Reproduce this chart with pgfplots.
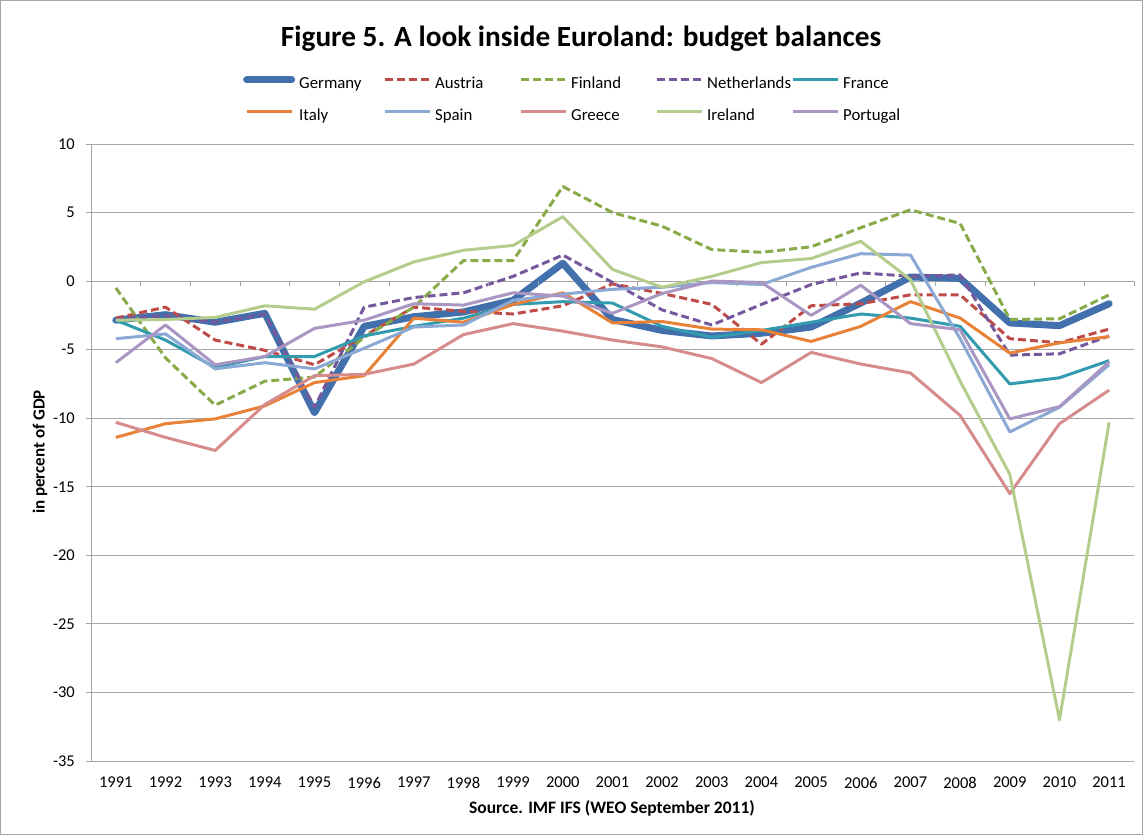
\documentclass[border=0pt]{standalone}
\usepackage{fontspec}
\setmainfont{Carlito}
\usepackage{pgfplots}
\usepackage{pgfplotstable}
\pgfplotsset{compat=1.18}

\definecolor{cGer}{RGB}{66,112,172}
\definecolor{cAut}{RGB}{190,75,72}
\definecolor{cFin}{RGB}{137,170,72}
\definecolor{cNed}{RGB}{117,88,155}
\definecolor{cFra}{RGB}{50,155,176}
\definecolor{cIta}{RGB}{232,130,56}
\definecolor{cSpa}{RGB}{140,168,212}
\definecolor{cGre}{RGB}{214,140,140}
\definecolor{cIre}{RGB}{180,205,140}
\definecolor{cPor}{RGB}{170,150,195}
\definecolor{cGrid}{RGB}{165,165,165}

% budget balances, in percent of GDP
\pgfplotstableread{
year Germany Austria Finland Netherlands France Italy Spain Greece Ireland Portugal
1991 -2.85 -2.7  -0.5  -2.8  -2.85 -11.4  -4.2  -10.3  -2.85 -5.95
1992 -2.45 -1.9  -5.6  -2.5  -4.3  -10.4  -3.85 -11.4  -2.8  -3.2
1993 -3.0  -4.3  -9.05 -3.0  -6.3  -10.05 -6.4  -12.35 -2.65 -6.1
1994 -2.35 -5.05 -7.3  -2.4  -5.5  -9.1   -5.95 -9.0   -1.8  -5.5
1995 -9.6  -6.1  -7.0  -9.2  -5.5  -7.4   -6.4  -6.9   -2.05 -3.45
1996 -3.3  -4.0  -4.1  -1.9  -4.0  -6.9   -4.9  -6.8   -0.05 -2.85
1997 -2.6  -1.9  -1.9  -1.2  -3.3  -2.7   -3.35 -6.05  1.4   -1.65
1998 -2.25 -2.2  1.5   -0.85 -2.7  -3.0   -3.2  -3.9   2.25  -1.75
1999 -1.4  -2.4  1.5   0.35  -1.7  -1.7   -1.4  -3.1   2.6   -0.85
2000 1.3   -1.8  6.9   1.9   -1.5  -0.85  -0.95 -3.65  4.7   -1.1
2001 -2.8  -0.2  5.0   -0.1  -1.6  -3.05  -0.6  -4.3   0.85  -2.35
2002 -3.6  -0.9  4.0   -2.1  -3.3  -2.95  -0.45 -4.8   -0.45 -0.9
2003 -4.0  -1.7  2.3   -3.2  -4.1  -3.5   -0.1  -5.65  0.35  0.0
2004 -3.8  -4.6  2.1   -1.7  -3.6  -3.55  -0.25 -7.4   1.35  -0.1
2005 -3.35 -1.8  2.5   -0.25 -3.0  -4.4   1.0   -5.2   1.65  -2.5
2006 -1.6  -1.65 3.9   0.6   -2.4  -3.3   2.0   -6.05  2.9   -0.3
2007 0.3   -1.0  5.2   0.35  -2.7  -1.5   1.9   -6.7   0.1   -3.1
2008 0.2   -1.0  4.2   0.45  -3.3  -2.7   -4.2  -9.8   -7.3  -3.55
2009 -3.05 -4.2  -2.8  -5.4  -7.5  -5.25  -11.0 -15.5  -14.1 -10.05
2010 -3.25 -4.5  -2.75 -5.3  -7.05 -4.5   -9.2  -10.4  -32.0 -9.15
2011 -1.65 -3.5  -1.0  -4.0  -5.8  -4.05  -6.1  -7.95  -10.3 -5.9
}\budget

\newcommand{\legbox}[1]{\makebox[84bp][l]{#1}}

\begin{document}
\begin{tikzpicture}
\useasboundingbox (0bp,0bp) rectangle (1143bp,835bp);
\draw[cGrid,line width=0.8bp] (0.5bp,0.5bp) rectangle (1142.5bp,834.5bp);
\begin{axis}[
  at={(91bp,74bp)}, anchor=south west,
  width=1043bp, height=617bp, scale only axis,
  xmin=1990.5, xmax=2011.5, ymin=-35, ymax=10,
  xtick={1991,...,2011}, ytick={-35,-30,...,10},
  /pgf/number format/assume math mode=true,
  /pgf/number format/1000 sep={},
  axis line style={draw=none},
  ymajorgrids, grid style={cGrid,line width=0.8bp},
  ytick pos=left, tick align=outside, major tick length=5bp,
  ytick style={cGrid,line width=0.8bp}, xtick style={draw=none},
  tick label style={font=\fontsize{16.5bp}{19bp}\selectfont, inner sep=0pt},
  yticklabel style={anchor=east, xshift=-11bp},
  xticklabel style={anchor=north, yshift=-11bp},
  legend columns=5, legend cell align=left,
  legend style={at={(rel axis cs:0.1457,1.110)}, anchor=north west,
    draw=none, fill=none, inner sep=0pt,
    font=\fontsize{16.8bp}{20bp}\selectfont,
    /tikz/every odd column/.style={column sep=4bp},
    row sep=17.5bp,
    nodes={inner sep=0pt, text height=11bp, text depth=3bp}},
  legend image code/.code={\draw[#1] (0bp,5bp) -- (45bp,5bp);},
  every axis plot/.append style={line join=round},
]
\draw[cGrid,line width=0.8bp] (axis cs:1990.5,-35) -- (axis cs:1990.5,10);
\addplot[cGer, line width=7bp, line cap=round] table[x=year,y=Germany]{\budget};
\addlegendentry{\legbox{Germany}}
\addplot[cAut, line width=3bp, dash pattern=on 8bp off 4bp] table[x=year,y=Austria]{\budget};
\addlegendentry{\legbox{Austria}}
\addplot[cFin, line width=3bp, dash pattern=on 8bp off 4bp] table[x=year,y=Finland]{\budget};
\addlegendentry{\legbox{Finland}}
\addplot[cNed, line width=3bp, dash pattern=on 8bp off 4bp] table[x=year,y=Netherlands]{\budget};
\addlegendentry{\legbox{Netherlands}}
\addplot[cFra, line width=3bp] table[x=year,y=France]{\budget};
\addlegendentry{France}
\addplot[cIta, line width=3bp] table[x=year,y=Italy]{\budget};
\addlegendentry{\legbox{Italy}}
\addplot[cSpa, line width=3bp] table[x=year,y=Spain]{\budget};
\addlegendentry{\legbox{Spain}}
\addplot[cGre, line width=3bp] table[x=year,y=Greece]{\budget};
\addlegendentry{\legbox{Greece}}
\addplot[cIre, line width=3bp] table[x=year,y=Ireland]{\budget};
\addlegendentry{\legbox{Ireland}}
\addplot[cPor, line width=3bp] table[x=year,y=Portugal]{\budget};
\addlegendentry{Portugal}
\end{axis}
% small tick marks on the zero line, between the years
\foreach \i in {1,...,21} {
  \draw[cGrid,line width=0.8bp] ({91bp+\i*49.667bp},553.9bp) -- ++(0bp,-5bp);
}
\node[font=\bfseries\fontsize{29.3bp}{34bp}\selectfont] at (581bp,796bp) {Figure 5. A look inside Euroland: budget balances};
\node[rotate=90, font=\bfseries\fontsize{17bp}{20bp}\selectfont] at (40bp,383bp) {in percent of GDP};
\node[font=\bfseries\fontsize{17.5bp}{20bp}\selectfont] at (612bp,27bp) {Source. IMF IFS (WEO September 2011)};
\end{tikzpicture}
\end{document}
